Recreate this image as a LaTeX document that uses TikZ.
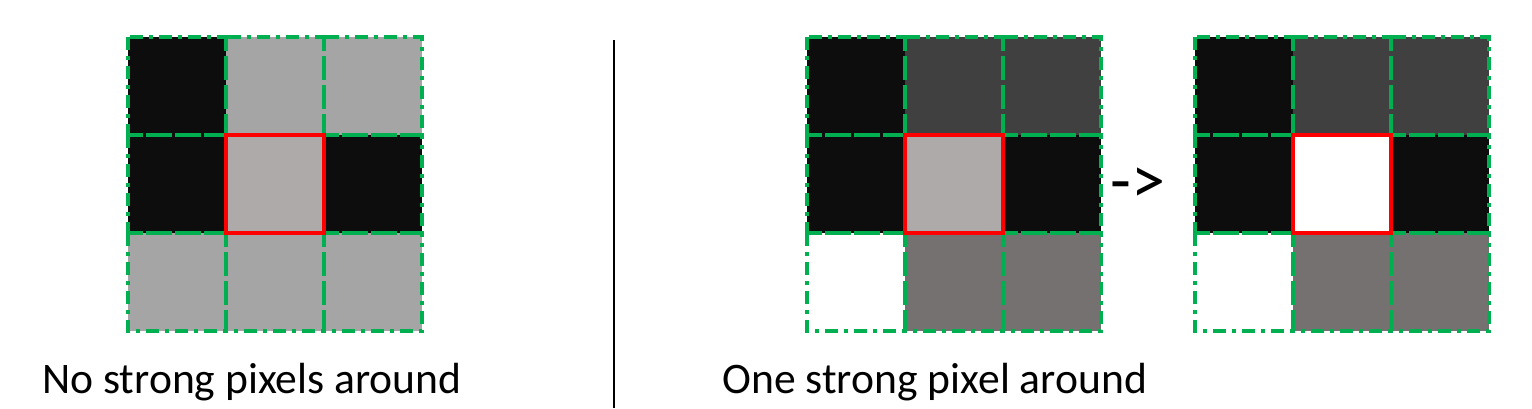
\documentclass[tikz,border=0pt]{standalone}
\usepackage{fontspec}
\setmainfont{Carlito}
\definecolor{cblack}{HTML}{0D0D0D}
\definecolor{clight}{HTML}{A5A5A5}
\definecolor{ccenter}{HTML}{AEAAAA}
\definecolor{cdark}{HTML}{404040}
\definecolor{cmid}{HTML}{767171}
\definecolor{cgreen}{HTML}{00B050}
\definecolor{cred}{HTML}{FF0000}
\begin{document}
\begin{tikzpicture}[x=0.5pt,y=-0.5pt,
  cellbox/.style={draw=none,minimum size=49pt,inner sep=0pt,outer sep=0pt,anchor=north west},
  gridline/.style={draw=cgreen,line width=1.9pt,dash pattern=on 6.5pt off 3pt on 2pt off 3pt},
  centerbox/.style={draw=cred,line width=2pt},
  label/.style={font=\fontsize{21.8}{26}\selectfont,anchor=base west,inner sep=0pt}]
\useasboundingbox (0,0) rectangle (1532,408);
% grid 1
\foreach \c [count=\i from 0] in {cblack,clight,clight,cblack,ccenter,cblack,clight,clight,clight}{
  \pgfmathtruncatemacro{\col}{mod(\i,3)}
  \pgfmathtruncatemacro{\row}{div(\i,3)}
  \node[cellbox,fill=\c] (a\i) at (128+98*\col,37+98*\row) {};
}
% grid 2
\foreach \c [count=\i from 0] in {cblack,cdark,cdark,cblack,ccenter,cblack,white,cmid,cmid}{
  \pgfmathtruncatemacro{\col}{mod(\i,3)}
  \pgfmathtruncatemacro{\row}{div(\i,3)}
  \node[cellbox,fill=\c] (b\i) at (807+98*\col,37+98*\row) {};
}
% grid 3
\foreach \c [count=\i from 0] in {cblack,cdark,cdark,cblack,white,cblack,white,cmid,cmid}{
  \pgfmathtruncatemacro{\col}{mod(\i,3)}
  \pgfmathtruncatemacro{\row}{div(\i,3)}
  \node[cellbox,fill=\c] (c\i) at (1195+98*\col,37+98*\row) {};
}
% green grid lines
\foreach \g in {a,b,c}{
  \foreach \i in {0,...,8}{
    \draw[gridline] (\g\i.north west) rectangle (\g\i.south east);
  }
  \draw[centerbox] (\g4.north west) rectangle (\g4.south east);
}
% separator
\coordinate (septop) at (614,40);
\coordinate (sepbot) at (614,408);
\draw[black,line width=1pt] (septop) -- (sepbot);
% arrow text
\node[font=\fontsize{34}{40}\selectfont,inner sep=0pt] (arr) at (1138,186) {->};
% labels
\node[label] (l1) at (42,393) {No strong pixels around};
\node[label] (l2) at (722,393) {One strong pixel around};
\end{tikzpicture}
\end{document}
